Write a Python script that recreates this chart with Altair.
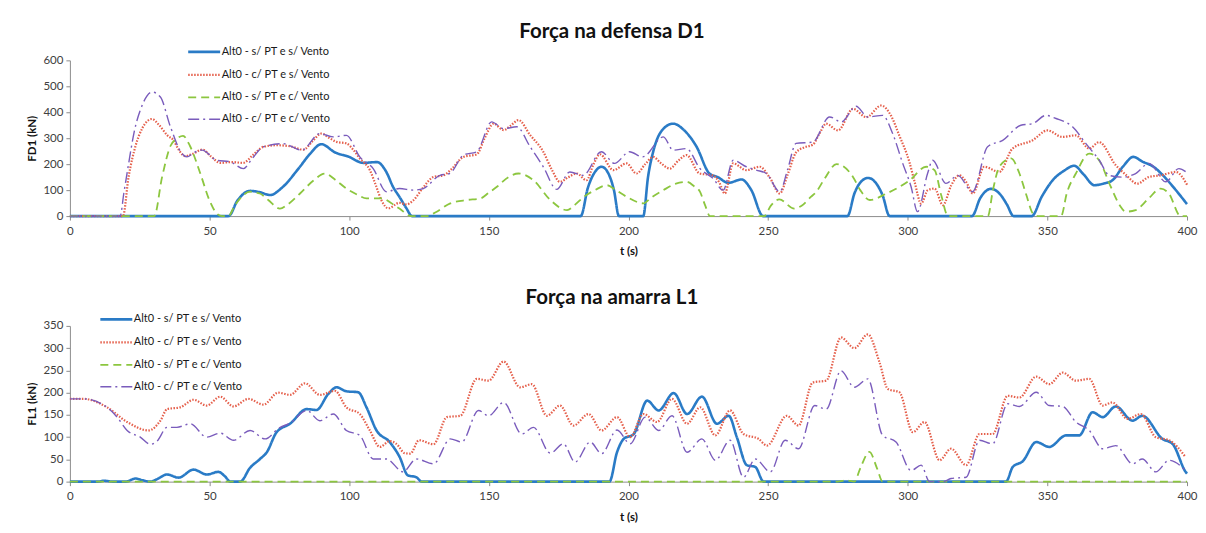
import altair as alt
import pandas as pd

FONT = "Lato"
NAMES = ["Alt0 - s/ PT e s/ Vento", "Alt0 - c/ PT e s/ Vento",
         "Alt0 - s/ PT e c/ Vento", "Alt0 - c/ PT e c/ Vento"]
COLORS = ["#2A7BC6", "#E5604C", "#8CC63F", "#7A5CBC"]
DASHES = [[1, 0], [1.5, 1.5], [8, 5], [11, 4, 2, 4]]
WIDTHS = [2.6, 1.4, 2.2, 2.6]

X_TICKS = [0, 50, 100, 150, 200, 250, 300, 350, 400]
D1_TICKS = [0, 100, 200, 300, 400, 500, 600]
L1_TICKS = [0, 50, 100, 150, 200, 250, 300, 350]

# ---------------- Força na defensa D1 ----------------
d1_blue_t = [0, 56.8, 60, 64.5, 68, 71.7, 76, 82, 86, 90, 95, 100, 105, 110, 113.3, 115.7, 118, 120.5, 122.5,
             182.9, 185.5, 188, 190.4, 193, 194.8, 196.6,
             205.3, 207, 209, 212, 216, 220, 224.4, 229, 232, 235.7, 240.5, 244, 248.2,
             278.4, 281, 283.5, 285.8, 288, 291, 293.5,
             323, 326, 329.8, 333, 335.5, 337.9,
             344.4, 348, 351.9, 356, 359.6, 363, 366.8, 370, 373.3, 377, 380.8, 384, 388, 392, 396, 400]
d1_blue_v = [0, 0, 60, 97, 92, 81, 110, 185, 240, 277, 245, 228, 205, 208, 170, 113, 74, 30, 0,
             0, 110, 170, 190, 160, 100, 0,
             0, 150, 254, 330, 356, 330, 267, 164, 150, 128, 141, 100, 0,
             0, 90, 135, 147, 135, 80, 0,
             0, 70, 105, 85, 45, 0,
             0, 75, 138, 175, 194, 160, 119, 125, 138, 190, 228, 210, 190, 150, 100, 46]

d1_red_t = [0, 19, 21, 23.5, 26, 29.4, 32, 35, 37.1, 39, 41.3, 44, 47.5, 50.5, 53.8, 58, 62, 65.5, 69.3, 74,
            78.8, 83.6, 87, 90, 93, 95.5, 99, 101.5, 103.8, 107.4, 109.5, 111.5, 114, 118, 120.5, 123, 126.5,
            130.2, 133.8, 137, 140.9, 145.7, 148.5, 151.7, 155.3, 158, 160.6, 164.8, 169.5, 172.5, 175.5,
            178.5, 181.5, 185, 187.5, 189.8, 194.6, 199.3, 202.9, 206, 208.9, 211.5, 214.8, 218, 220.8, 225.5,
            230.3, 232.5, 234.5, 237.5, 242.2, 247, 250.5, 254.2, 257, 260, 263, 266, 268.5, 270.8, 275,
            280.4, 285.2, 290.5, 294, 297, 300.6, 302.5, 304.8, 307.2, 309.6, 312.6, 315.6, 318.5, 321, 323.3,
            327.4, 332.8, 337.5, 344.7, 350, 355.4, 360.2, 365, 368.5, 374.5, 378, 382.2, 386.4, 390.6, 396, 400]
d1_red_v = [0, 0, 150, 270, 340, 374, 350, 310, 292, 255, 231, 240, 256, 230, 205, 208, 205, 235, 267, 273,
            269, 256, 290, 318, 300, 286, 280, 255, 222, 177, 120, 62, 30, 51, 45, 61, 110,
            151, 157, 185, 228, 238, 300, 356, 331, 350, 370, 312, 248, 180, 132,
            150, 164, 138, 200, 238, 177, 203, 164, 200, 228, 205, 183, 215, 235, 164,
            157, 130, 87, 203, 177, 190, 150, 87, 160, 245, 265, 275, 320, 356, 330,
            413, 381, 426, 387, 310, 208, 130, 48, 100, 106, 42, 119, 157, 130, 87,
            190, 170, 260, 292, 330, 305, 311, 260, 285, 196, 160, 125, 151, 157, 170, 121]

d1_green_t = [0, 30.2, 33, 36, 38.5, 40.5, 43, 46.7, 50, 52.6, 54.5, 56.8, 59, 62, 64.5, 68, 71, 75.2, 78,
              82.4, 87, 91.3, 95, 99, 103, 106.2, 112, 115, 118, 122.3, 128, 131, 136.2, 142.2, 147, 150,
              152.9, 157, 160.6, 166, 172, 178, 181, 184, 188, 192.3, 195.5, 199.4, 205.4, 208, 212.5, 217,
              220.8, 223.5, 225.6, 227.5, 229.2, 248.6, 251, 254, 259.4, 262, 265.3, 267.3, 270, 274.5,
              280.4, 283, 286.4, 292.4, 300.7, 306.6, 309.6, 312, 314.4, 328.7, 330.5, 332.8, 337, 340,
              342.5, 344.8, 346.5, 354.9, 357, 360.2, 365, 368.5, 372.7, 376, 378, 381.6, 386, 390.6,
              393.5, 397.7, 400]
d1_green_v = [0, 0, 150, 270, 300, 309, 270, 164, 60, 10, 0, 0, 40, 80, 94, 87, 62, 29, 45,
              87, 135, 164, 140, 106, 82, 68, 68, 50, 29, 0, 0, 15, 49, 62, 68, 90,
              113, 150, 164, 138, 62, 23, 45, 74, 100, 119, 100, 74, 49, 70, 100, 125,
              132, 115, 94, 40, 0, 0, 40, 64, 29, 40, 74, 94, 140, 200,
              151, 100, 62, 87, 138, 190, 177, 80, 0, 0, 100, 190, 222, 164,
              80, 10, 0, 0, 90, 164, 241, 215, 113, 40, 17, 23, 65, 106,
              87, 0, 0]

d1_purple_t = [0, 18, 19.3, 21, 22.9, 26, 29.4, 32.4, 36, 40.1, 41.9, 44.5, 47.3, 52.6, 57.4, 62.1, 65.5,
               69.3, 76.4, 83, 89.5, 94.3, 99, 103.8, 108.6, 113.3, 118, 123, 126.5, 132.5, 136, 140.9,
               145.7, 151, 155.3, 160, 164.8, 169.5, 174.3, 179, 183.8, 190.3, 195, 200.4, 205.1, 212.5,
               216, 220.8, 225.6, 230.3, 233.9, 237.5, 242.2, 245.8, 249.4, 254.2, 257, 260, 266, 272,
               276.2, 281.5, 285.7, 291, 294.6, 298.2, 301.2, 303.5, 307.1, 308.9, 313.7, 317.9, 323.2,
               328.6, 334, 340.5, 344.7, 349.5, 353.1, 359, 363.8, 368.6, 372.1, 377, 381.6, 386.4, 392.4,
               397.1, 400]
d1_purple_v = [0, 0, 87, 200, 318, 430, 478, 459, 344, 241, 228, 245, 254, 215, 209, 183, 225,
               267, 279, 254, 318, 305, 311, 228, 183, 94, 106, 100, 106, 157, 164, 235,
               248, 363, 337, 344, 267, 190, 103, 170, 157, 248, 203, 248, 228, 305,
               254, 260, 183, 145, 100, 215, 190, 177, 164, 94, 180, 280, 285, 382,
               363, 423, 382, 388, 318, 203, 113, 17, 164, 215, 126, 157, 94,
               267, 292, 350, 356, 388, 376, 344, 279, 215, 157, 150, 164, 203, 132,
               183, 167]

# ---------------- Força na amarra L1 ----------------
l1_blue_t = [0, 10, 12.1, 15.7, 20, 23.5, 26, 28.8, 31, 34.8, 38.9, 44.3, 49, 53.2, 55.5, 57.4, 61, 64.5,
             68.1, 70.5, 74, 78.8, 84.8, 88.3, 92.5, 95.5, 99, 103.2, 106.2, 109.8, 114.5, 118.1, 121, 124,
             126, 193.2, 195.9, 198.3, 201.9, 206.7, 210.8, 216.2, 221, 226.3, 231.7, 235.9, 238.8, 242.4,
             245.4, 248.4, 335.2, 337.6, 341.2, 346, 350.7, 356.7, 361.4, 366.2, 369.8, 374.5, 380.5, 384,
             391.2, 394.8, 399.5, 400]
l1_blue_v = [0, 0, 2, 0, 0, 7, 3, 0, 5, 16, 9, 27, 16, 22, 12, 0, 0, 31,
             51, 66, 111, 130, 163, 161, 197, 212, 203, 201, 167, 115, 89, 55, 14, 10,
             0, 0, 66, 96, 107, 182, 160, 199, 152, 191, 130, 148, 100, 37,
             33, 0, 0, 33, 46, 89, 78, 104, 104, 156, 145, 169, 137, 148,
             96, 85, 22, 18]

l1_red_t = [0, 5, 13.3, 20.5, 28.2, 32.4, 34.8, 39.5, 44.3, 49, 53.8, 58.6, 63.9, 69.3, 74.6, 78.8, 84.2,
            89.5, 94.9, 99, 103.8, 107.4, 111, 114.5, 116.9, 119.9, 121.9, 125, 130.2, 135, 139.8, 145.7,
            149.9, 155.3, 161.2, 165.4, 170.8, 175.5, 180.3, 185.7, 190.4, 195.9, 200.6, 205.4, 210.2,
            215.6, 221, 225.7, 231.1, 236.4, 241.2, 246.6, 249.6, 256.7, 260.9, 266, 270.8, 276.1, 280.9,
            285.7, 289.9, 292.9, 297, 301.8, 306, 311.4, 315.5, 320.9, 325.7, 330.4, 335.8, 340, 346,
            350.7, 355.5, 360.2, 365, 369.8, 373.3, 378.7, 383.5, 388.8, 393.6, 399.5]
l1_red_v = [186, 186, 167, 134, 115, 137, 163, 167, 184, 171, 191, 169, 186, 173, 200, 195, 221,
            195, 204, 167, 152, 115, 78, 91, 85, 64, 63, 93, 84, 145, 148, 231,
            227, 270, 212, 219, 148, 171, 126, 152, 115, 145, 100, 152, 134,
            186, 130, 167, 104, 160, 107, 96, 81, 148, 126, 223, 227, 324, 300,
            331, 268, 208, 201, 111, 134, 48, 74, 37, 107, 107, 193, 189, 236,
            219, 245, 227, 231, 171, 178, 141, 152, 100, 93, 55]

l1_green_t = [0, 275, 277.9, 280.9, 283, 286.3, 289, 291, 400]
l1_green_v = [0, 0, 3, 0, 30, 67, 30, 0, 0]

l1_purple_t = [0, 5, 13.3, 16.9, 20.5, 25.2, 28.8, 31.2, 34.8, 38.3, 43.1, 49, 53.8, 58.6, 64.5, 69.9,
               74.6, 79.4, 84.8, 89.5, 94.3, 99, 103.8, 108.6, 113.3, 119.3, 124, 130.2, 136.2, 140.3,
               146.3, 149.9, 155.3, 161.8, 166, 172, 176.7, 180.9, 186.3, 190.4, 195.9, 200.6, 206, 210.8,
               215.6, 221, 226.3, 231.1, 236.4, 241.2, 245.4, 250.8, 256.1, 260.9, 266.7, 270.8, 276.1,
               280.9, 285.7, 291, 295.8, 301.2, 304.8, 307.8, 312.6, 315.5, 320.9, 325.7, 330.4, 335.8, 340,
               346, 350.7, 355.5, 360.2, 365, 369.8, 374.5, 380.5, 384, 388.8, 393.6, 399.5]
l1_purple_v = [186, 186, 167, 145, 115, 100, 84, 91, 122, 122, 130, 100, 109, 93, 115, 96,
               119, 134, 160, 137, 152, 115, 104, 51, 51, 22, 51, 40, 96, 89,
               160, 148, 178, 107, 122, 64, 85, 44, 89, 63, 116, 85, 145, 115,
               148, 66, 96, 48, 93, 10, 51, 22, 93, 74, 171, 163, 249,
               212, 231, 104, 89, 25, 37, 0, 0, 7, 10, 93, 85, 175, 169,
               201, 171, 169, 134, 115, 74, 81, 40, 51, 22, 48, 25]


def frame(series):
    rows = []
    for name, (ts, vs) in zip(NAMES, series):
        for t, v in zip(ts, vs):
            rows.append({"serie": name, "t": t, "v": v})
    return pd.DataFrame(rows)


def panel(df, title, ytitle, ymax, yticks, lx, ly, toff):
    leg = alt.Legend(title=None, orient="none", legendX=lx, legendY=ly, direction="vertical",
                     symbolType="stroke", symbolSize=1024, symbolStrokeWidth=2.4,
                     labelFont=FONT, labelFontSize=11, labelColor="#1a1a1a", labelOffset=0,
                     rowPadding=-1.5, padding=0)
    return alt.Chart(df, title=alt.Title(title, font=FONT, fontSize=20.5, fontWeight="bold",
                                         color="#111111", anchor="middle", frame="bounds",
                                         offset=toff)).mark_line(
        interpolate="monotone"
    ).encode(
        x=alt.X("t:Q", scale=alt.Scale(domain=[0, 400], nice=False),
                axis=alt.Axis(values=X_TICKS, title="t (s)", labelFlush=False)),
        y=alt.Y("v:Q", scale=alt.Scale(domain=[0, ymax], nice=False),
                axis=alt.Axis(values=yticks, title=ytitle)),
        color=alt.Color("serie:N", scale=alt.Scale(domain=NAMES, range=COLORS), legend=leg),
        strokeDash=alt.StrokeDash("serie:N", scale=alt.Scale(domain=NAMES, range=DASHES), legend=leg),
        strokeWidth=alt.StrokeWidth("serie:N", scale=alt.Scale(domain=NAMES, range=WIDTHS), legend=None),
    ).properties(width=1119, height=156)


top = panel(frame([(d1_blue_t, d1_blue_v), (d1_red_t, d1_red_v), (d1_green_t, d1_green_v),
                   (d1_purple_t, d1_purple_v)]),
            "Força na defensa D1", "FD1 (kN)", 600, D1_TICKS, 117, -26, -8)
bottom = panel(frame([(l1_blue_t, l1_blue_v), (l1_red_t, l1_red_v), (l1_green_t, l1_green_v),
                      (l1_purple_t, l1_purple_v)]),
               "Força na amarra L1", "FL1 (kN)", 350, L1_TICKS, 29, -24, -7)

chart = alt.vconcat(top, bottom, spacing=31).resolve_scale(
    color="independent", strokeDash="independent", strokeWidth="independent"
).resolve_legend(color="independent", strokeDash="independent").properties(
    padding={"left": 18, "top": 13, "right": 0, "bottom": 0}
).configure_view(stroke=None).configure_axis(
    grid=False, domainColor="#8C8C8C", tickColor="#8C8C8C", tickSize=4,
    labelFont=FONT, labelFontSize=11.5, labelColor="#404040",
    titleFont=FONT, titleFontSize=11.5, titleFontWeight="bold", titleColor="#111111"
).configure_axisX(labelPadding=5, titlePadding=9).configure_axisY(labelPadding=3, titlePadding=5)

chart.save("out.html", embed_options={"renderer": "svg", "actions": False})
